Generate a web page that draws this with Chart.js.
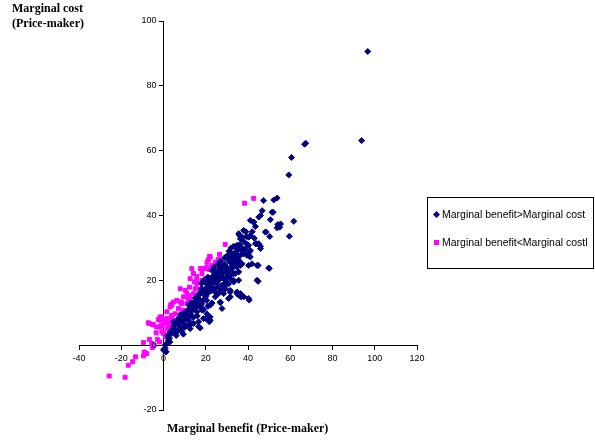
<!DOCTYPE html>
<html>
<head>
<meta charset="utf-8">
<script src="https://cdn.jsdelivr.net/npm/chart.js@4"></script>
<style>
    body { margin: 0; background: #fff; }
    #wrap { position: relative; width: 595px; height: 440px; }
    #chart { position: absolute; left: 0; top: 0; }
    .ytitle { position: absolute; left: 12px; top: 1px; font: bold 12px "Liberation Serif", serif; line-height: 15px; color: #000; }
    .xtitle { position: absolute; left: 167px; top: 421px; font: bold 12px "Liberation Serif", serif; color: #000; }
    .legend { position: absolute; left: 427px; top: 197px; width: 167px; height: 72px; border: 1px solid #000; box-sizing: border-box; }
    .item { position: absolute; left: 6px; font: 10.5px "Liberation Sans", Arial, sans-serif; color: #000; white-space: nowrap; }
    .mk { display: inline-block; width: 5px; height: 5px; margin-right: 3px; vertical-align: 1px; }
</style>
</head>
<body>
<div id="wrap">
    <canvas id="chart" width="595" height="440"></canvas>
    <div class="ytitle">Marginal cost<br>(Price-maker)</div>
    <div class="xtitle">Marginal benefit (Price-maker)</div>
    <div class="legend">
        <div class="item" style="top:10px"><span class="mk" style="background:#000080;transform:rotate(45deg)"></span>Marginal benefit&gt;Marginal cost</div>
        <div class="item" style="top:38px"><span class="mk" style="background:#ff00ff"></span>Marginal benefit&lt;Marginal costl</div>
    </div>
</div>
<script>
// series labels
const seriesNames = ['Marginal benefit>Marginal cost', 'Marginal benefit<Marginal costl'];

// axis ticks
const xTicks = [-40, -20, 0, 20, 40, 60, 80, 100, 120];
const yTicks = [-20, 0, 20, 40, 60, 80, 100];

// [marginal benefit, marginal cost] where benefit > cost
const benefitAbove = [
    [96.7,90.6],[93.8,63.1],[66.8,62],[67.3,62.3],[60.6,57.9],[59.3,52.5],[53.8,45.4],[52.2,44.8],[47.4,44.6],[46.7,41.5],
    [51.9,41.0],[61.7,38.2],[50.6,38.7],[41.1,38.5],[42.7,37.9],[45.1,39.5],[43.5,36.6],[37.9,35.4],[48.6,34.9],[54.1,37.2],
    [55.0,36.4],[53.8,36.2],[59.6,33.6],[50.3,33.5],[36.0,33.8],[41.1,33.8],[39.2,33.5],[36.4,32.8],[44.0,31.3],[45.9,30.5],
    [45.9,29.8],[33.2,30.5],[34.8,29.8],[39.5,31.1],[40.6,28.7],[39.5,27.7],[41.1,27.2],[49.8,23.8],[44.8,24.6],[41.9,25.1],
    [40.3,24.6],[33.2,28.2],[30.8,26.2],[32.4,25.1],[34.8,24.1],[37.2,25.1],[45.9,40.0],[51.4,41.0],[55.4,37.4],[42.7,38.0],
    [40.3,33.3],[37.2,33.3],[35.6,34.4],[48.2,34.9],[45.1,31.3],[43.5,31.3],[40.3,30.8],[38.8,29.7],[41.1,29.2],[34.8,30.8],
    [35.6,29.7],[37.2,29.2],[38.0,28.2],[36.4,27.7],[40.3,27.7],[33.2,27.7],[34.8,27.2],[31.6,26.7],[34.0,26.2],[34.8,25.1],
    [36.4,24.6],[44.3,24.6],[50.1,23.7],[44.8,19.7],[40.6,13.9],[36.7,14.9],[35.6,15.4],[31.6,14.9],[31.6,16.4],[26.9,13.1],
    [27.7,11.3],[21.7,7.2],[22.1,7.7],[20.2,8.1],[16.6,5.8],[17.4,5.3],[12.6,5.1],[13.1,6.5],[8.7,4.1],[9.4,3.4],
    [6.3,4.1],[5.5,4.6],[4.4,5.1],[2.8,2.1],[2.3,1.5],[0.8,0.0],[0.4,-1.2],[1.2,-2.0],[44.3,20.0],[36.4,15.9],
    [38.0,14.9],[40.3,14.4],[34.8,16.4],[26.9,24.1],[28.5,23.6],[29.3,22.6],[27.7,22.1],[26.1,23.1],[24.5,22.6],[23.7,21.5],
    [25.3,21.0],[22.9,21.0],[21.3,20.0],[22.1,18.9],[20.5,18.9],[23.7,19.5],[26.1,20.0],[28.5,20.5],[30.0,21.0],[31.6,21.5],
    [33.2,22.1],[33.2,20.0],[30.8,18.9],[29.3,17.4],[30.4,27.7],[32.4,28.2],[34.8,29.2],[33.2,26.7],[35.6,26.2],[31.6,25.6],
    [28.5,24.6],[26.9,23.1],[25.3,22.1],[30.0,22.6],[32.4,23.6],[34.0,22.1],[35.6,22.6],[23.7,21.0],[22.1,20.0],[21.3,19.0],
    [24.5,19.5],[26.9,20.5],[29.3,20.0],[31.6,20.5],[20.5,17.9],[18.9,16.9],[17.4,15.9],[19.7,15.4],[22.9,16.9],[25.3,17.9],
    [27.7,18.5],[30.0,19.0],[33.2,19.5],[35.6,20.0],[16.6,14.4],[15.0,13.3],[13.4,12.3],[15.8,11.8],[18.2,12.8],[20.5,13.8],
    [22.1,12.3],[24.5,14.9],[26.1,15.9],[28.5,15.9],[31.6,16.9],[11.8,10.8],[10.3,9.7],[8.7,8.7],[11.1,8.2],[13.4,9.2],
    [15.8,10.3],[18.2,10.8],[20.5,9.7],[22.1,8.7],[18.9,8.2],[7.1,7.2],[5.5,6.2],[7.9,5.6],[14.2,6.7],[16.6,7.2],
    [26.9,13.3],[30.8,14.4],[34.8,15.9],[4.7,7.2],[7.1,8.2],[5.5,4.6],[7.9,5.1],[9.5,6.7],[11.8,7.7],[3.9,3.6],
    [2.3,2.1],[1.6,0.5],[0.8,-1.0],[0.0,-1.5],[1.2,-2.1],[12,9],[14,11],[16,12.5],[17,14],[19,14],
    [21,16],[23,18],[24,17],[18,17.5],[20,15],[15,12],[13,10.5],[10,8],[9,7.5],[12,11],
    [14,13],[17,12],[19,11],[21,12],[23,13],[25,16],[27,17],[29,19],[31,23],[32,24],
    [29,25],[28,21],[25,19],[22,17],[20,16.5],[16,9],[14,8.5],[11,6],[10,5.5],[6,3],
    [3,1],[18,19],[19,20],[21,21],[23,23],[24,24],[26,25],[27,26],[29,27],[31,29],
    [32,30],[36,31],[38,32],[39,35],[42,35],[43,33],[37,30],[35,28],[33,25],[30,24],
    [27,21],[25,20.5],[22,19.5],[17,16],[16,15],[15,14.5],[13,13],[12,12.5],[10,10],[8,9.5],
    [6,7],[5,6],[3,4],[2,3]
];

// [marginal benefit, marginal cost] where benefit < cost
const benefitBelow = [
    [-25.7,-9.5],[-18.2,-9.9],[-16.7,-6.2],[-14.6,-5.1],[-13.2,-3.6],[-9.5,-3.3],[-9.1,-2.1],[-7.9,-2.6],[-9.5,0.8],[-6.7,1.8],
    [-5.6,0.5],[-4.5,0.0],[-5.3,-0.7],[-6.8,6.7],[-5.1,6.4],[-3.5,3.8],[-2.9,1.8],[-1.9,1.0],[-3.2,5.6],[-1.6,5.8],
    [-0.8,4.1],[-1.6,7.7],[0.0,7.7],[-0.8,8.7],[0.8,6.7],[1.6,5.1],[2.3,6.2],[3.1,7.2],[0.0,3.6],[0.8,2.6],
    [1.6,8.2],[3.9,8.7],[5.5,7.7],[4.7,6.7],[7.1,8.2],[3.9,12.3],[7.9,13.3],[9.4,10.8],[11.8,15.4],[11.1,12.8],
    [29.2,31.1],[26.5,28.0],[25.9,26.4],[27.2,25.6],[22.1,27.2],[21.3,26.4],[20.5,24.1],[22.9,24.6],[21.8,23.3],[13.4,23.6],
    [17.4,23.6],[18.2,22.1],[14.2,22.1],[15.8,21.2],[18.2,20.0],[19.8,20.5],[12.6,20.5],[14.7,19.5],[7.9,17.4],[10.3,16.9],
    [12.3,17.9],[14.2,15.9],[15.8,17.4],[9.5,14.9],[11.1,15.9],[12.6,14.4],[4.7,13.3],[6.3,13.8],[8.7,12.8],[3.1,11.8],
    [7.1,11.3],[1.6,10.3],[3.9,9.2],[5.5,9.7],[-1.6,8.7],[0.8,7.7],[2.4,6.7],[-0.8,6.2],[3.9,7.2],[38.4,43.8],
    [42.7,45.3],[24.5,25.6],[21.8,27.4],[20.6,25.6],[19.8,23.6],[18.2,23.6],[3.5,12.6],[8.4,13.3],[11.8,14.1],[-7.2,6.9],
    [-4.8,6.3],[-2.4,7.9],[-1.6,5.6],[2.3,7.2],[3.9,5.1],[5.5,5.6],[7.1,6.7],[8.7,8.7],[9.5,9.7],[11.1,10.8],
    [12.6,12.3],[13.4,11.3],[15.0,17.4],[15.8,19.0],[15.8,20.0]
];

function toPoints(rows) {
    return rows.map(r => ({ x: r[0], y: r[1] }));
}

// y labels for an axis crossing at x = 0 (Chart.js puts them on top of the line)
const yLabelsLeft = {
    id: 'yLabelsLeft',
    afterDraw(chart) {
        const xs = chart.scales.x, ys = chart.scales.y;
        const c = chart.ctx;
        const left = xs.getPixelForValue(0) - 7;
        c.save();
        c.font = '9px "Liberation Sans", Arial, sans-serif';
        c.fillStyle = '#000';
        c.textAlign = 'right';
        c.textBaseline = 'middle';
        ys.ticks.forEach(t => c.fillText(String(t.value), left, ys.getPixelForValue(t.value)));
        c.restore();
    }
};

function renderScatter() {
    const ctx = document.getElementById('chart').getContext('2d');
    new Chart(ctx, {
        type: 'scatter',
        data: {
            datasets: [{
                label: seriesNames[0],
                data: toPoints(benefitAbove),
                pointStyle: 'rectRot',
                pointRadius: 3,
                borderWidth: 1,
                backgroundColor: '#000080',
                borderColor: '#000080'
            }, {
                label: seriesNames[1],
                data: toPoints(benefitBelow),
                pointStyle: 'rect',
                pointRadius: 2.8,
                borderWidth: 1,
                backgroundColor: '#ff00ff',
                borderColor: '#ff00ff'
            }]
        },
        options: {
            responsive: false,
            animation: false,
            devicePixelRatio: 1,
            layout: { padding: { left: 79, right: 178, top: 21, bottom: 30 } },
            plugins: { legend: { display: false }, tooltip: { enabled: false } },
            scales: {
                x: {
                    type: 'linear',
                    position: { y: 0 },
                    min: xTicks[0],
                    max: xTicks[xTicks.length - 1],
                    afterBuildTicks: s => { s.ticks = xTicks.map(v => ({ value: v })); },
                    grid: { drawOnChartArea: false, drawTicks: true, tickLength: 4, color: '#000' },
                    border: { display: true, color: '#000', width: 1 },
                    ticks: { padding: 4, color: '#000', font: { family: 'Liberation Sans', size: 9 } }
                },
                y: {
                    type: 'linear',
                    position: { x: 0 },
                    min: yTicks[0],
                    max: yTicks[yTicks.length - 1],
                    afterBuildTicks: s => { s.ticks = yTicks.map(v => ({ value: v })); },
                    grid: { drawOnChartArea: false, drawTicks: true, tickLength: 4, color: '#000' },
                    border: { display: true, color: '#000', width: 1 },
                    ticks: { display: false }
                }
            }
        },
        plugins: [yLabelsLeft]
    });
}

renderScatter();
</script>
</body>
</html>
